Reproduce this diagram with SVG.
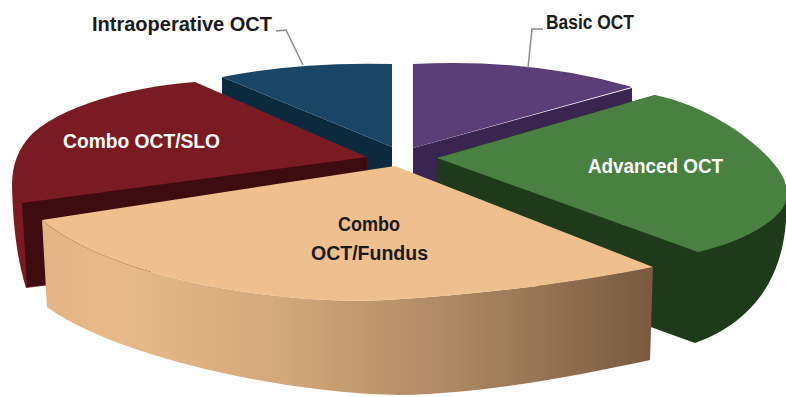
<svg xmlns="http://www.w3.org/2000/svg" width="786" height="397" viewBox="0 0 786 397">
<defs>
<linearGradient id="tanSide" gradientUnits="userSpaceOnUse" x1="42" y1="0" x2="653" y2="0">
<stop offset="0" stop-color="#e2b485"/>
<stop offset="0.12" stop-color="#e8ba89"/>
<stop offset="0.4" stop-color="#d2a77a"/>
<stop offset="0.65" stop-color="#b08b66"/>
<stop offset="1" stop-color="#795a40"/>
</linearGradient>
<style>
.lbl{font-family:"Liberation Sans",Arial,sans-serif;font-weight:bold;font-size:20px}
.dk{fill:#1a1a1a}
.wt{fill:#ffffff}
.lead{fill:none;stroke:#8c8c8c;stroke-width:1.5}
</style>
</defs>
<rect width="786" height="397" fill="#ffffff"/>

<g id="intraoperative-oct">
<polygon points="222,77 392,147 392,235 222,165" fill="#0c2a3e"/>
<path d="M222,77 Q299,61.5 392,64 L392,147 Z" fill="#1a4565"/>
</g>

<g id="basic-oct">
<polygon points="413,148 632,88 632,180 413,240" fill="#3a2450"/>
<path d="M413,64 Q531,58 632,87 L413,148 Z" fill="#5b3e77"/>
</g>

<g id="combo-oct-slo">
<path d="M367,157 L195,82 C150,85 70,100 33,133 C18,148 12,165 12,185 C13,230 18,262 26,288 L367,245 Z" fill="#7a1b23"/>
<polygon points="22,203 367,157 367,245 27,287" fill="#3e0c10"/>
</g>

<g id="advanced-oct">
<path d="M437,158 L655,95 L786,190 L786,195 C790,260 765,318 695,343 L437,250 Z" fill="#1e3a1b"/>
<path d="M437,158 L655,95 C705,105 760,140 782,175 C790,190 788,205 777,215 C760,232 730,245 698,252 Z" fill="#4a8041"/>
</g>

<g id="combo-oct-fundus">
<path d="M42,220 C120,285 300,305 386,300 C480,295 580,282 653,267 L650,360 C580,375 490,393 400,395 C300,395 120,360 47,307 Z" fill="url(#tanSide)"/>
<path d="M395,166 L42,220 C120,285 300,305 386,300 C480,295 580,282 653,267 Z" fill="#efc08d"/>
</g>

<g id="connectors">
<polyline class="lead" points="276,31 286,30 303,65"/>
<polyline class="lead" points="543,29 532,29 528,68"/>
</g>

<g id="labels">
<text class="lbl dk" x="92" y="31" textLength="180" lengthAdjust="spacingAndGlyphs">Intraoperative OCT</text>
<text class="lbl dk" x="546" y="29" textLength="88" lengthAdjust="spacingAndGlyphs">Basic OCT</text>
<text class="lbl wt" x="63" y="148" textLength="157" lengthAdjust="spacingAndGlyphs">Combo OCT/SLO</text>
<text class="lbl wt" x="588" y="173" textLength="135" lengthAdjust="spacingAndGlyphs">Advanced OCT</text>
<text class="lbl dk" x="338" y="231" textLength="62" lengthAdjust="spacingAndGlyphs">Combo</text>
<text class="lbl dk" x="311" y="260" textLength="117" lengthAdjust="spacingAndGlyphs">OCT/Fundus</text>
</g>
</svg>
